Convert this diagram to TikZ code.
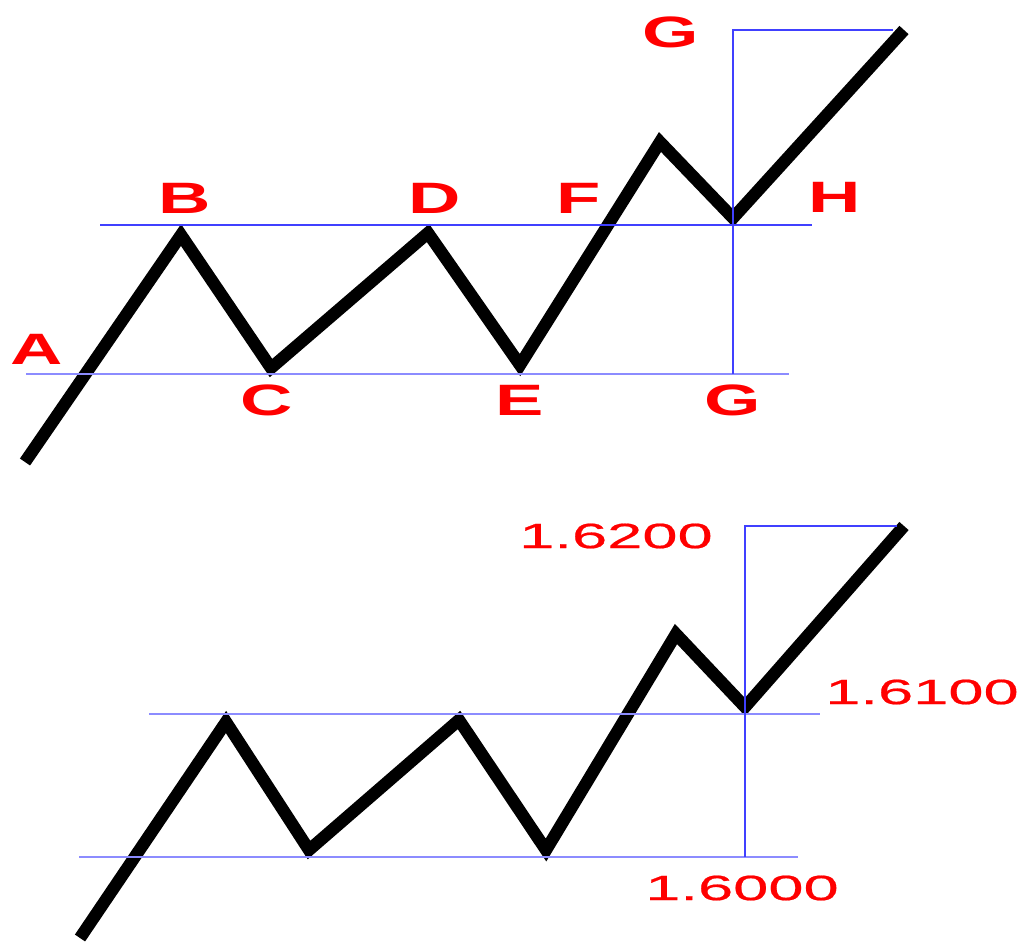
\documentclass[tikz,border=0pt]{standalone}
\usepackage{fontspec}
\usepackage{tikz}
\usetikzlibrary{positioning}
\newfontfamily\tagfont[FakeStretch=1.65]{Liberation Sans}
\newfontfamily\quotefont[FakeStretch=1.8,FakeBold=0.6]{Liberation Sans}
\tikzset{
  price/.style={draw=black, line width=7pt},
  level/.style={draw=blue!75, line width=0.6pt},
  softlevel/.style={draw=blue!45, line width=0.9pt},
  tag/.style={text=red, inner sep=0pt, font=\tagfont\bfseries\fontsize{25}{30}\selectfont},
  quote/.style={text=red, inner sep=0pt, font=\quotefont\fontsize{20}{24}\selectfont}
}

\begin{document}
\begin{tikzpicture}[x=0.02cm, y=-0.02cm]
\useasboundingbox (0,0) rectangle (1029,944);
\coordinate (a0) at (25,462);
\coordinate (b) at (181,235);
\coordinate (c) at (271,368);
\coordinate (d) at (428,233);
\coordinate (e) at (520,365);
\coordinate (f) at (660,142);
\coordinate (h) at (733,218);
\coordinate (g) at (904,30);
\draw[price] (a0) -- (b) -- (c) -- (d) -- (e) -- (f) -- (h) -- (g);
\coordinate (up1) at (100,225);
\coordinate (up2) at (812,225);
\coordinate (lo1) at (26,374);
\coordinate (lo2) at (789,374);
\coordinate (vtop) at (733,30);
\coordinate (vbot) at (733,374);
\coordinate (ttop) at (893,30);
\draw[level] (up1) -- (up2);
\draw[softlevel] (lo1) -- (lo2);
\draw[level] (vbot) -- (vtop) -- (ttop);
\node[tag] (la) at (37,349) {A};
\node[tag] (lb) at (185,198) {B};
\node[tag] (lc) at (267,400) {C};
\node[tag] (ld) at (435,198) {D};
\node[tag] (le) at (520,400) {E};
\node[tag] (lf) at (579,198) {F};
\node[tag] (lg) at (671,32) {G};
\node[tag] (lh) at (835,197) {H};
\node[tag] (lg2) at (733,400) {G};
\coordinate (a1) at (80,938);
\coordinate (b1) at (226,722);
\coordinate (c1) at (309,850);
\coordinate (d1) at (459,720);
\coordinate (e1) at (546,850);
\coordinate (f1) at (676,634);
\coordinate (h1) at (745,707);
\coordinate (g1) at (904,526);
\draw[price] (a1) -- (b1) -- (c1) -- (d1) -- (e1) -- (f1) -- (h1) -- (g1);
\coordinate (up3) at (149,714);
\coordinate (up4) at (820,714);
\coordinate (lo3) at (79,857);
\coordinate (lo4) at (798,857);
\coordinate (wtop) at (745,526);
\coordinate (wbot) at (745,857);
\coordinate (stop) at (897,526);
\draw[softlevel] (up3) -- (up4);
\draw[softlevel] (lo3) -- (lo4);
\draw[level] (wbot) -- (wtop) -- (stop);
\node[quote] (q1) at (616,536) {1.6200};
\node[quote] (q2) at (922,692) {1.6100};
\node[quote] (q3) at (742,888) {1.6000};
\end{tikzpicture}
\end{document}
